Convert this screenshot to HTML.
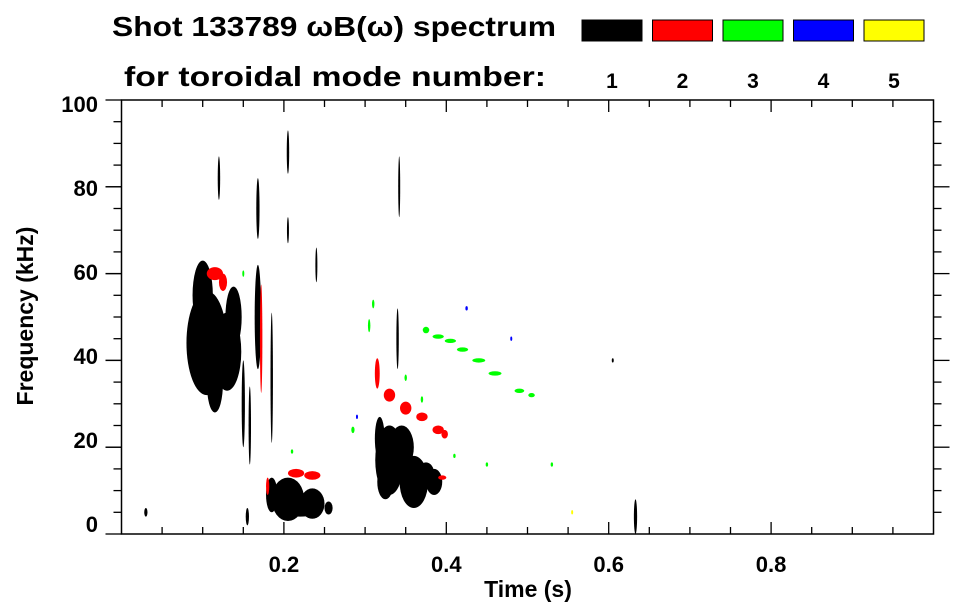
<!DOCTYPE html>
<html><head><meta charset="utf-8"><style>
body{margin:0;background:#fff;}
svg{display:block;font-family:"Liberation Sans",sans-serif;font-weight:bold;}
</style></head><body>
<svg id="c" width="963" height="615" xmlns="http://www.w3.org/2000/svg">
<text x="112" y="36" font-size="28" textLength="444" lengthAdjust="spacingAndGlyphs">Shot 133789 ωB(ω) spectrum</text>
<text x="124" y="86" font-size="28" textLength="422" lengthAdjust="spacingAndGlyphs">for toroidal mode number:</text>
<g id="legend"></g>
<g id="plot"></g>
<g id="axes"></g>
<text x="528" y="597" font-size="23" text-anchor="middle">Time (s)</text>
<text transform="translate(33,316) rotate(-90)" font-size="23" text-anchor="middle">Frequency (kHz)</text>
</svg>
<script>
const modeLabels=[1,2,3,4,5];
const modeColors=["#000","#f00","#0f0","#00f","#ff0"];
const xTicks=[0.2,0.4,0.6,0.8];
const yTicks=[0,20,40,60,80,100];
// blobs: time, freq, time extent, freq extent, mode
const blobT=[0.105,0.10,0.13,0.168,0.168,0.15,0.158,0.205,0.205,0.205,0.235,0.185,0.255,0.155,0.33,0.36,0.385,0.318,0.34,0.342,0.633,0.03,0.605,0.12,0.24,0.185,0.115,0.138,0.345,0.325,0.375,0.22,
0.115,0.125,0.315,0.33,0.35,0.37,0.39,0.398,0.215,0.235,0.18,0.395,0.172,
0.375,0.39,0.405,0.42,0.44,0.46,0.49,0.505,0.31,0.305,0.285,0.35,0.37,0.41,0.45,0.53,0.21,0.15,
0.425,0.48,0.29,0.555];
const blobF=[44,55,42,50,75,30,25,88,70,8,7,9,6,4,17,12,12,22,45,80,4,5,40,82,62,36,35,50,20,12,14,6,
60,58,37,32,29,27,24,23,14,13.5,11,13,45,
47,45.5,44.5,42.5,40,37,33,32,53,48,24,36,31,18,16,16,19,60,
52,45,27,5];
const blobDT=[0.05,0.025,0.035,0.008,0.004,0.004,0.003,0.003,0.002,0.04,0.03,0.014,0.01,0.004,0.035,0.035,0.02,0.012,0.003,0.002,0.004,0.004,0.002,0.003,0.002,0.003,0.02,0.02,0.03,0.02,0.02,0.05,
0.02,0.01,0.006,0.014,0.014,0.014,0.014,0.008,0.02,0.02,0.004,0.01,0.003,
0.008,0.014,0.014,0.014,0.016,0.016,0.012,0.008,0.003,0.003,0.004,0.003,0.003,0.003,0.003,0.003,0.003,0.002,
0.003,0.002,0.002,0.002];
const blobDF=[24,16,18,24,14,20,18,10,6,10,7,8,3,4,16,12,6,10,14,14,8,2,1,10,8,30,14,14,10,8,5,4,
3,4,7,3,3,2,2,2,2,2,4,1,25,
1.5,1,1,1,1,1,1,1,2,3,1.5,1.5,1.5,1,1,1,1,1.5,
1,1,1,1];
const blobMode=[1,1,1,1,1,1,1,1,1,1,1,1,1,1,1,1,1,1,1,1,1,1,1,1,1,1,1,1,1,1,1,1,
2,2,2,2,2,2,2,2,2,2,2,2,2,
3,3,3,3,3,3,3,3,3,3,3,3,3,3,3,3,3,3,
4,4,4,5];
const NS="http://www.w3.org/2000/svg";
const L=121.5,R=933.5,T=100,B=534;
const xs=t=>L+t*(R-L);
const ys=f=>B-f/100*(B-T);
function mk(tag,attrs,parent){const e=document.createElementNS(NS,tag);for(const k in attrs)e.setAttribute(k,attrs[k]);parent.appendChild(e);return e;}
const lg=document.getElementById('legend');
modeLabels.forEach((m,i)=>{
 const x=582+i*70.5;
 const r=mk('rect',{x:x,y:20,width:60,height:21,fill:modeColors[i],stroke:'#000','stroke-width':1},lg);
 
 
 const t=mk('text',{x:x+30,y:88,'font-size':21,'text-anchor':'middle'},lg);t.textContent=m;
 
 
});
const pl=document.getElementById('plot');
for(let i=0;i<blobT.length;i++){
 const e=mk('ellipse',{cx:xs(blobT[i]),cy:ys(blobF[i]),rx:Math.max(1,blobDT[i]/2*(R-L)),ry:Math.max(1,blobDF[i]/2*(B-T)/100),fill:modeColors[blobMode[i]-1]},pl);
 
 
}
const ax=document.getElementById('axes');
mk('rect',{x:L,y:T,width:R-L,height:B-T,fill:'none',stroke:'#000','stroke-width':1.5},ax);
for(let k=1;k<20;k++){const t=k*0.05,x=xs(t),len=(k%4==0)?12:7;
 mk('line',{x1:x,x2:x,y1:B,y2:B-len,stroke:'#000','stroke-width':1.3},ax);
 mk('line',{x1:x,x2:x,y1:T,y2:T+len,stroke:'#000','stroke-width':1.3},ax);}
for(let k=1;k<20;k++){const f=k*5,y=ys(f),len=(k%4==0)?16:8;
 mk('line',{x1:L,x2:L-len,y1:y,y2:y,stroke:'#000','stroke-width':1.3},ax);
 mk('line',{x1:R,x2:R+len,y1:y,y2:y,stroke:'#000','stroke-width':1.3},ax);}
xTicks.forEach(t=>{const e=mk('text',{x:xs(t),y:572,'font-size':22,'text-anchor':'middle'},ax);e.textContent=t.toFixed(1);
 
 });
yTicks.forEach(f=>{mk('line',{x1:L,x2:L-16,y1:ys(f),y2:ys(f),stroke:'#000','stroke-width':1.3},ax);
 const e=mk('text',{x:98,y:104+(100-f)*4.2+8,'font-size':22,'text-anchor':'end'},ax);e.textContent=f;
 
 });
</script>
</body></html>
